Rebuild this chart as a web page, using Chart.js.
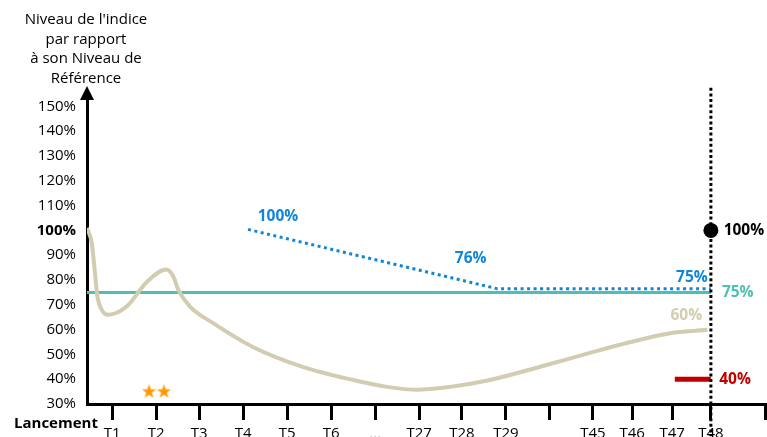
<!DOCTYPE html>
<html>
<head>
<meta charset="utf-8">
<script src="https://cdn.jsdelivr.net/npm/chart.js@4.4.1/dist/chart.umd.min.js"></script>
<style>
  html, body { margin: 0; padding: 0; background: #fff; }
</style>
</head>
<body>
<canvas id="chart" width="767" height="437"></canvas>
<script>
const FONT = '"Open Sans", "Noto Sans", sans-serif';

// axis ticks
const yTicks = [30, 40, 50, 60, 70, 80, 90, 100, 110, 120, 130, 140, 150];
const xTickPos = [0.57, 1.57, 2.55, 3.55, 4.55, 5.55, 6.55, 7.55, 8.52, 9.52, 10.52, 11.5, 12.39, 13.3, 14.18, 15.41];
const xTickLabels = ['T1', 'T2', 'T3', 'T4', 'T5', 'T6', '...', 'T27', 'T28', 'T29', '', 'T45', 'T46', 'T47', 'T48', ''];
const yTitleLines = ["Niveau de l'indice", 'par rapport', 'à son Niveau de', 'Référence'];

// index path (beige curve)
const curveX = [0, 0.107, 0.18, 0.235, 0.334, 0.484, 0.9, 1.35, 1.8, 1.96, 2.075, 2.34, 2.86, 3.77, 4.9, 6.05, 6.82, 7.5, 8.25, 9.16, 10.3, 11.43, 12.57, 13.32, 14.1];
const curveY = [101, 95, 83, 73.6, 68, 66, 69.3, 79, 84.2, 81.5, 76, 69.3, 62.7, 53, 45, 39.7, 36.9, 35.7, 36.9, 39.7, 45, 50.6, 55.9, 58.7, 59.9];

// barrier (teal), coupon path (blue dotted), protection (red)
const barrierX = [0, 14.18];
const barrierY = [75, 75];
const couponX = [3.66, 9.32, 14.18];
const couponY = [100.4, 76.5, 76.5];
const protectX = [13.36, 14.18];
const protectY = [40, 40];
const finalX = 14.18;
const starX = [1.41, 1.75];
const starY = [35.2, 35.2];

const BEIGE = '#d2ccb0';
const TEAL = '#4dbfb5';
const BLUE = '#0f86d8';
const RED = '#c00000';

const pts = (xs, ys) => xs.map((x, i) => ({ x: x, y: ys[i] }));

function makeStar(size, color) {
  const c = document.createElement('canvas');
  c.width = c.height = size;
  const g = c.getContext('2d');
  g.fillStyle = color;
  g.beginPath();
  for (let i = 0; i < 10; i++) {
    const r = i % 2 ? size * 0.2 : size * 0.5;
    const a = -Math.PI / 2 + i * Math.PI / 5;
    g.lineTo(size / 2 + r * Math.cos(a), size / 2 + 0.6 + r * Math.sin(a));
  }
  g.closePath();
  g.fill();
  return c;
}

const notes = [
  { text: '100%', x: 4.34, y: 105.7, color: BLUE, align: 'center' },
  { text: '76%', x: 8.72, y: 88.7, color: BLUE, align: 'center' },
  { text: '75%', x: 13.75, y: 81, color: BLUE, align: 'center' },
  { text: '100%', x: 14.47, y: 100, color: '#000', align: 'left' },
  { text: '75%', x: 14.43, y: 75, color: TEAL, align: 'left' },
  { text: '60%', x: 13.62, y: 65.6, color: BEIGE, align: 'center' },
  { text: '40%', x: 14.37, y: 39.7, color: RED, align: 'left' }
];

const decorations = {
  id: 'decorations',
  afterDraw(chart) {
    const ctx = chart.ctx;
    const xs = chart.scales.x;
    const ys = chart.scales.y;
    const left = chart.chartArea.left;
    ctx.save();
    // arrow on the y axis
    ctx.fillStyle = '#000';
    ctx.beginPath();
    ctx.moveTo(left, 86);
    ctx.lineTo(left - 7, 100);
    ctx.lineTo(left + 7, 100);
    ctx.closePath();
    ctx.fill();
    // y axis title
    ctx.font = '15px ' + FONT;
    ctx.textAlign = 'center';
    ctx.textBaseline = 'middle';
    yTitleLines.forEach((t, i) => ctx.fillText(t, 86, 20 + i * 19.5));
    // Lancement
    ctx.font = 'bold 15px ' + FONT;
    ctx.textAlign = 'left';
    ctx.fillText('Lancement', 14, 424);
    // value labels
    notes.forEach(n => {
      ctx.font = 'bold 15.5px ' + FONT;
      ctx.fillStyle = n.color;
      ctx.textAlign = n.align;
      ctx.fillText(n.text, xs.getPixelForValue(n.x), ys.getPixelForValue(n.y));
    });
    ctx.restore();
  }
};

new Chart(document.getElementById('chart'), {
  type: 'line',
  data: {
    datasets: [
      {
        data: pts(curveX, curveY),
        borderColor: BEIGE, borderWidth: 4, pointRadius: 0,
        cubicInterpolationMode: 'monotone', order: 3
      },
      {
        data: pts(barrierX, barrierY),
        borderColor: TEAL, borderWidth: 3, pointRadius: 0, order: 4
      },
      {
        data: pts(couponX, couponY),
        borderColor: BLUE, borderWidth: 3, borderDash: [3, 3.5], pointRadius: 0, order: 2
      },
      {
        data: pts(protectX, protectY),
        borderColor: RED, borderWidth: 5, pointRadius: 0, order: 2
      },
      {
        data: [{ x: finalX, y: 157.5 }, { x: finalX, y: 17 }],
        borderColor: '#000', borderWidth: 3, borderDash: [3, 2.6], pointRadius: 0, clip: false, order: 1
      },
      {
        data: [{ x: finalX, y: 100 }],
        showLine: false, pointRadius: 7.5, pointBackgroundColor: '#000', pointBorderWidth: 0, order: 0
      },
      {
        data: pts(starX, starY),
        showLine: false, pointStyle: makeStar(15, '#ff9900'), order: 0
      }
    ]
  },
  options: {
    responsive: false,
    animation: false,
    events: [],
    layout: { autoPadding: false, padding: { top: 94, right: 2, left: 0, bottom: 0 } },
    plugins: { legend: { display: false }, tooltip: { enabled: false } },
    scales: {
      x: {
        type: 'linear',
        min: 0,
        max: 15.41,
        afterBuildTicks: s => { s.ticks = xTickPos.map(v => ({ value: v })); },
        afterFit: s => { s.height = 33; s.paddingLeft = 0; s.paddingRight = 0; },
        ticks: {
          autoSkip: false, maxRotation: 0, minRotation: 0, padding: 5,
          callback: (v, i) => xTickLabels[i],
          color: ctx => xTickLabels[ctx.index] === '...' ? '#bbb' : '#000',
          font: { family: FONT, size: 15 }
        },
        grid: { display: true, drawOnChartArea: false, drawTicks: true, tickLength: 16, lineWidth: 3, color: '#000' },
        border: { display: true, width: 3, color: '#000' }
      },
      y: {
        type: 'linear',
        min: 30,
        max: 155,
        afterBuildTicks: s => { s.ticks = yTicks.map(v => ({ value: v })); },
        afterFit: s => { s.width = 87; s.paddingTop = 0; s.paddingBottom = 0; },
        ticks: {
          padding: 11, color: '#000',
          callback: v => v + '%',
          font: ctx => ({ family: FONT, size: 15, weight: ctx.tick && ctx.tick.value === 100 ? 'bold' : 'normal' })
        },
        grid: { display: false, drawTicks: false },
        border: { display: true, width: 3, color: '#000' }
      }
    }
  },
  plugins: [decorations]
});
</script>
</body>
</html>
